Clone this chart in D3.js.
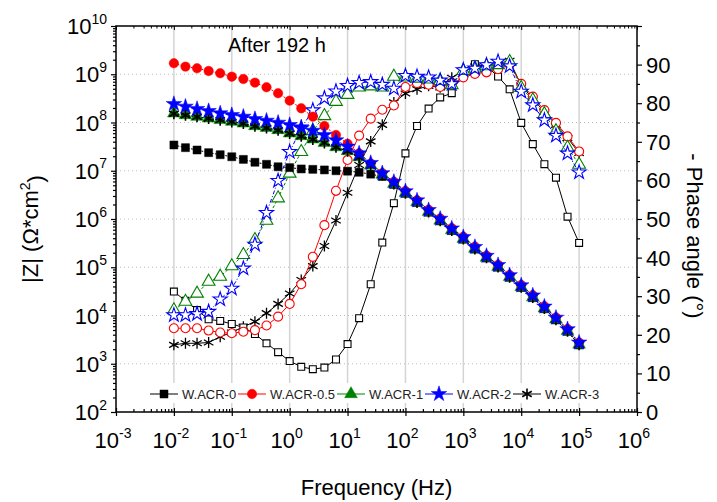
<!DOCTYPE html>
<html><head><meta charset="utf-8">
<script src="https://cdn.jsdelivr.net/npm/d3@7"></script>
<style>
html,body{margin:0;padding:0;background:#fff;}
svg{display:block;font-family:"Liberation Sans",Arial,sans-serif;}
</style></head>
<body>
<svg id="chart" width="717" height="502"></svg>
<script>
// ---------- data ----------
const freq = [0.01,0.01585,0.02512,0.03981,0.0631,0.1,0.1585,0.2512,0.3981,0.631,
  1,1.585,2.512,3.981,6.31,10,15.85,25.12,39.81,63.1,
  100,158.5,251.2,398.1,631,1000,1585,2512,3981,6310,
  10000,15850,25120,39810,63100,100000];

const seriesNames = ["W.ACR-0","W.ACR-0.5","W.ACR-1","W.ACR-2","W.ACR-3"];
const seriesColors = ["#000000","#ff0000","#008000","#0000ff","#000000"];

const zACR0 = [3.42e7,3.01e7,2.69e7,2.37e7,2.15e7,1.95e7,1.72e7,1.50e7,1.36e7,1.21e7,
  1.16e7,1.09e7,1.07e7,1.04e7,1.00e7,9.8e6,9.3e6,8.5e6,7.6e6,5.2e6,
  3.39e6,2.19e6,1.38e6,9.1e5,5.75e5,3.8e5,2.37e5,1.55e5,1.0e5,6.17e4,
  3.8e4,2.34e4,1.38e4,8.1e3,4.68e3,2.45e3];
const zACR05 = [1.69e9,1.44e9,1.33e9,1.17e9,1.05e9,8.9e8,7.98e8,6.7e8,5.37e8,4.04e8,
  2.84e8,1.97e8,1.32e8,8.45e7,5.51e7,3.63e7,2.29e7,1.41e7,8.9e6,5.9e6,
  3.8e6,2.45e6,1.55e6,1.02e6,6.46e5,4.27e5,2.66e5,1.74e5,1.12e5,6.92e4,
  4.27e4,2.63e4,1.55e4,9.1e3,5.25e3,2.75e3];
const zACR1 = [1.55e8,1.43e8,1.32e8,1.22e8,1.13e8,1.04e8,9.6e7,8.45e7,7.8e7,7.0e7,
  5.97e7,5.25e7,4.49e7,3.81e7,3.09e7,2.57e7,1.91e7,1.29e7,8.3e6,5.37e6,
  3.47e6,2.24e6,1.41e6,9.3e5,5.9e5,3.89e5,2.43e5,1.58e5,1.02e5,6.31e4,
  3.89e4,2.4e4,1.41e4,8.3e3,4.79e3,2.51e3];
const zACR2 = [2.42e8,2.13e8,1.91e8,1.73e8,1.55e8,1.43e8,1.32e8,1.18e8,1.09e8,9.9e7,
  8.87e7,7.94e7,6.76e7,5.51e7,4.27e7,3.16e7,2.29e7,1.45e7,8.9e6,5.9e6,
  3.76e6,2.43e6,1.53e6,1.01e6,6.38e5,4.22e5,2.63e5,1.72e5,1.11e5,6.84e4,
  4.22e4,2.6e4,1.53e4,9.0e3,5.19e3,2.75e3];
const zACR3 = [1.52e8,1.41e8,1.31e8,1.21e8,1.12e8,1.03e8,9.5e7,8.35e7,7.7e7,6.9e7,
  5.9e7,5.2e7,4.45e7,3.78e7,3.07e7,2.54e7,1.88e7,1.27e7,8.2e6,5.3e6,
  3.43e6,2.21e6,1.4e6,9.2e5,5.8e5,3.85e5,2.4e5,1.57e5,1.01e5,6.24e4,
  3.85e4,2.37e4,1.4e4,8.2e3,4.73e3,2.48e3];

const phACR0 = [31.2,28.8,26.4,24.0,23.6,22.8,21.9,20.2,17.8,15.5,
  13.2,11.7,11.1,11.5,13.6,17.6,24.3,33.1,43.9,54.1,
  67.0,74.1,78.6,81.5,82.6,88.0,90.1,89.6,86.9,83.6,
  74.9,69.4,64.2,60.7,50.6,43.8];
const phACR05 = [21.7,21.7,21.7,21.1,20.6,20.4,20.8,21.2,22.4,24.7,
  28.0,33.1,40.2,48.4,57.3,65.3,71.6,76.0,78.3,79.4,
  84.2,85.2,84.8,84.2,85.0,86.7,87.6,88.0,88.8,90.0,
  85.0,81.7,78.2,74.9,71.4,67.5];
const phACR1 = [26.4,28.6,30.7,33.8,35.1,37.8,40.7,44.6,49.6,55.4,
  61.8,67.4,72.8,76.7,80.4,82.2,84.1,84.4,84.1,86.9,
  86.7,86.4,86.2,85.8,84.7,88.4,89.0,89.6,89.9,90.7,
  84.0,80.8,77.2,72.8,68.5,64.1];
const phACR2 = [25.1,25.1,25.4,26.0,29.2,32.0,37.2,43.4,51.6,59.9,
  67.4,73.5,78.2,81.3,83.1,84.5,85.3,85.5,84.8,83.8,
  87.1,86.9,86.7,85.9,85.0,88.6,89.0,89.9,90.8,89.6,
  83.0,79.5,75.6,71.6,67.0,62.1];
const phACR3 = [17.4,17.8,17.8,18.0,19.5,20.6,22.1,23.4,25.6,28.0,
  30.7,34.2,37.8,43.0,49.6,56.8,64.0,70.1,74.4,80.2,
  82.5,83.6,84.5,84.1,86.6,88.6,89.5,89.9,90.3,91.0,
  84.6,81.2,77.7,74.4,71.0,67.1];

const xTickExps = [-3,-2,-1,0,1,2,3,4,5,6];
const yTickExps = [2,3,4,5,6,7,8,9,10];
const phaseTicks = [0,10,20,30,40,50,60,70,80,90];
const titleText = "After 192 h";

// ---------- layout ----------
const L = 116, R = 637, T = 26, B = 412;
const FONT = '"Liberation Sans",Arial,sans-serif';
const svg = d3.select("#chart");

const x = d3.scaleLog().domain([1e-3, 1e6]).range([L, R]);
const yZ = d3.scaleLog().domain([1e2, 1e10]).range([B, T]);
const yP = d3.scaleLinear().domain([0, 100]).range([B, T]);

// gridlines
const gGrid = svg.append("g");
gGrid.selectAll("line.v").data(xTickExps.filter(e => e > -3 && e < 6)).join("line")
  .attr("x1", e => x(Math.pow(10, e))).attr("x2", e => x(Math.pow(10, e)))
  .attr("y1", T).attr("y2", B)
  .attr("stroke", "#d4d4d4").attr("stroke-width", 1.5);
gGrid.selectAll("line.h").data(yTickExps.filter(e => e > 2 && e < 10)).join("line")
  .attr("x1", L).attr("x2", R)
  .attr("y1", e => yZ(Math.pow(10, e))).attr("y2", e => yZ(Math.pow(10, e)))
  .attr("stroke", "#bdbdbd").attr("stroke-width", 1).attr("stroke-dasharray", "1,3");

// symbols
function asteriskPath(r) {
  const s = r * Math.sin(Math.PI / 3), c = r * Math.cos(Math.PI / 3);
  return `M0,${-r}L0,${r}M${-s},${-c}L${s},${c}M${-s},${c}L${s},${-c}`;
}
const symTypes = [d3.symbolSquare, d3.symbolCircle, d3.symbolTriangle, d3.symbolStar, null];
const filledSizes = [64, 70, 70, 75, 0];
const openSizes = [48, 64, 70, 62, 0];

const zData = [zACR0, zACR05, zACR1, zACR2, zACR3];
const pData = [phACR0, phACR05, phACR1, phACR2, phACR3];
const phaseDash = [null, null, "3,2", "4,2,1,2", null];

function drawMarkers(g, pts, i, filled) {
  const col = seriesColors[i];
  if (i === 4) {
    g.selectAll("path.m").data(pts).join("path")
      .attr("transform", d => `translate(${d[0]},${d[1]})`)
      .attr("d", asteriskPath(5.5))
      .attr("fill", "none").attr("stroke", col).attr("stroke-width", filled ? 1.6 : 1.3);
  } else {
    const sym = d3.symbol().type(symTypes[i]).size(filled ? filledSizes[i] : openSizes[i]);
    g.selectAll("path.m").data(pts).join("path")
      .attr("transform", d => `translate(${d[0]},${d[1]})`)
      .attr("d", sym)
      .attr("fill", filled ? col : "#fff")
      .attr("stroke", col).attr("stroke-width", filled ? 0.5 : 1.1);
  }
}

const line = d3.line();
// phase series (open markers)
const phaseOrder = [4, 0, 1, 2, 3];
phaseOrder.forEach(i => {
  const pts = freq.map((f, k) => [x(f), yP(pData[i][k])]);
  const g = svg.append("g");
  g.append("path").attr("d", line(pts)).attr("fill", "none")
    .attr("stroke", seriesColors[i]).attr("stroke-width", 1)
    .attr("stroke-dasharray", phaseDash[i]);
  drawMarkers(g, pts, i, false);
});
// |Z| series (filled markers)
const zOrder = [0, 1, 2, 4, 3];
zOrder.forEach(i => {
  const pts = freq.map((f, k) => [x(f), yZ(zData[i][k])]);
  const g = svg.append("g");
  g.append("path").attr("d", line(pts)).attr("fill", "none")
    .attr("stroke", seriesColors[i]).attr("stroke-width", 1)
    .attr("stroke-dasharray", "2,1.5");
  drawMarkers(g, pts, i, true);
});

// ---------- axes ----------
const axisCol = "#000";
function minorLog(lo, hi) {
  const a = [];
  for (let e = lo; e < hi; e++) for (let m = 2; m <= 9; m++) a.push(m * Math.pow(10, e));
  return a;
}
const supFmt = function (sel, anchor) {
  sel.each(function (e) {
    const t = d3.select(this);
    t.text(null).attr("text-anchor", anchor);
    t.append("tspan").text("10");
    t.append("tspan").attr("dy", "-0.75em").attr("font-size", "14px").text(String(e));
  });
};

// left axis
const gL = svg.append("g").attr("transform", `translate(${L},0)`);
gL.call(d3.axisLeft(yZ).tickValues(yTickExps.map(e => Math.pow(10, e))).tickSize(5).tickFormat(""))
  .call(g => g.select(".domain").remove());
gL.append("g").call(d3.axisLeft(yZ).tickValues(minorLog(2, 10)).tickSize(3).tickFormat(""))
  .call(g => g.select(".domain").remove());
gL.selectAll("line").attr("stroke", axisCol).attr("stroke-width", 1.2);
gL.selectAll("text.lbl").data(yTickExps).join("text").attr("class", "lbl")
  .attr("x", -9).attr("y", e => yZ(Math.pow(10, e)) + 8)
  .attr("font-size", "22px").attr("fill", "#000").attr("font-family", FONT)
  .call(supFmt, "end");

// bottom axis
const gB = svg.append("g").attr("transform", `translate(0,${B})`);
gB.call(d3.axisBottom(x).tickValues(xTickExps.map(e => Math.pow(10, e))).tickSizeInner(4).tickSizeOuter(0).tickFormat(""))
  .call(g => g.select(".domain").remove());
gB.append("g").call(d3.axisBottom(x).tickValues(xTickExps.map(e => Math.pow(10, e))).tickSizeInner(-4).tickSizeOuter(0).tickFormat(""))
  .call(g => g.select(".domain").remove());
gB.append("g").call(d3.axisBottom(x).tickValues(minorLog(-3, 6)).tickSizeInner(-3).tickSizeOuter(0).tickFormat(""))
  .call(g => g.select(".domain").remove());
gB.selectAll("line").attr("stroke", axisCol).attr("stroke-width", 1.2);
gB.selectAll("text.lbl").data(xTickExps).join("text").attr("class", "lbl")
  .attr("x", e => x(Math.pow(10, e)) - 3).attr("y", 36)
  .attr("font-size", "22px").attr("fill", "#000").attr("font-family", FONT)
  .call(supFmt, "middle");

// top axis (inward ticks)
const gT = svg.append("g").attr("transform", `translate(0,${T})`);
gT.call(d3.axisBottom(x).tickValues(xTickExps.map(e => Math.pow(10, e))).tickSizeInner(4).tickSizeOuter(0).tickFormat(""))
  .call(g => g.select(".domain").remove());
gT.append("g").call(d3.axisBottom(x).tickValues(minorLog(-3, 6)).tickSizeInner(2.5).tickSizeOuter(0).tickFormat(""))
  .call(g => g.select(".domain").remove());
gT.selectAll("line").attr("stroke", axisCol).attr("stroke-width", 1);

// right axis (phase)
const gR = svg.append("g").attr("transform", `translate(${R},0)`);
gR.call(d3.axisRight(yP).tickValues(d3.range(0, 101, 10)).tickSize(5).tickFormat(""))
  .call(g => g.select(".domain").remove());
gR.append("g").call(d3.axisRight(yP).tickValues(d3.range(5, 100, 10)).tickSize(3).tickFormat(""))
  .call(g => g.select(".domain").remove());
gR.selectAll("line").attr("stroke", axisCol).attr("stroke-width", 1.2);
gR.selectAll("text.lbl").data(phaseTicks).join("text").attr("class", "lbl")
  .attr("x", 9).attr("y", d => yP(d) + 8)
  .attr("font-size", "22px").attr("fill", "#000").attr("font-family", FONT)
  .text(d => d);

// frame
svg.append("rect").attr("x", L).attr("y", T).attr("width", R - L).attr("height", B - T)
  .attr("fill", "none").attr("stroke", "#000").attr("stroke-width", 1.5);

// axis titles
const yTitle = svg.append("text").attr("transform", `translate(38,${(T + B) / 2 + 10}) rotate(-90)`)
  .attr("text-anchor", "middle").attr("font-size", "22px").attr("font-family", FONT);
yTitle.append("tspan").text("|Z| (Ω*cm");
yTitle.append("tspan").attr("dy", "-0.6em").attr("font-size", "14px").text("2");
yTitle.append("tspan").attr("dy", "0.6em").text(")");

svg.append("text").attr("transform", `translate(687,${(T + B) / 2 + 17}) rotate(90)`)
  .attr("text-anchor", "middle").attr("font-size", "22px").attr("font-family", FONT)
  .text("- Phase angle (°)");

svg.append("text").attr("x", (L + R) / 2).attr("y", 495)
  .attr("text-anchor", "middle").attr("font-size", "22px").attr("font-family", FONT)
  .text("Frequency (Hz)");

svg.append("text").attr("x", 228).attr("y", 52)
  .attr("font-size", "20px").attr("font-family", FONT).text(titleText);

// legend
const legY = 394;
const legStarts = [150, 238, 337, 425, 513];
svg.append("rect").attr("x", 145).attr("y", 383).attr("width", 458).attr("height", 20).attr("fill", "#fff");
seriesNames.forEach((name, i) => {
  const g = svg.append("g");
  const x0 = legStarts[i];
  g.append("line").attr("x1", x0).attr("x2", x0 + 28).attr("y1", legY).attr("y2", legY)
    .attr("stroke", seriesColors[i]).attr("stroke-width", 1);
  drawMarkers(g, [[x0 + 14, legY]], i, true);
  g.append("text").attr("x", x0 + 32).attr("y", legY + 5)
    .attr("font-size", "13px").attr("font-family", FONT).attr("fill", "#222").text(name);
});
</script>
</body></html>
